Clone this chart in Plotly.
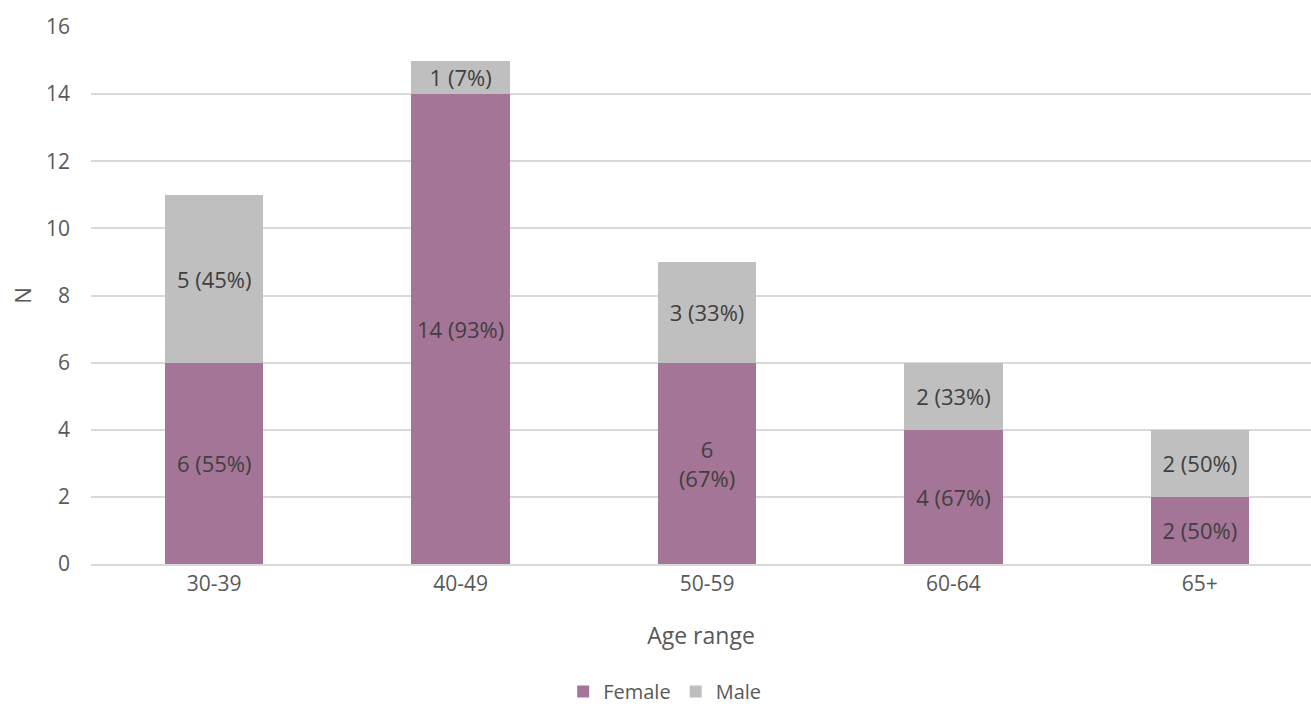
import plotly.graph_objects as go

categories = ["30-39", "40-49", "50-59", "60-64", "65+"]
female = [6, 14, 6, 4, 2]
male = [5, 1, 3, 2, 2]
female_labels = ["6 (55%)", "14 (93%)", "6<br>(67%)", "4 (67%)", "2 (50%)"]
male_labels = ["5 (45%)", "1 (7%)", "3 (33%)", "2 (33%)", "2 (50%)"]
y_ticks = [0, 2, 4, 6, 8, 10, 12, 14, 16]

FONT = "Open Sans"
TXT = "#595959"
LBL = "#404040"

fig = go.Figure()
fig.add_trace(go.Bar(
    x=categories, y=female, name="Female", marker_color="#A47596",
    text=female_labels, textposition="inside", insidetextanchor="middle",
    textfont=dict(family=FONT, size=22, color=LBL), width=0.4,
    marker_line_width=0, texttemplate="%{text}",
))
fig.add_trace(go.Bar(
    x=categories, y=male, name="Male", marker_color="#BFBFBF",
    text=male_labels, textposition="inside", insidetextanchor="middle",
    textfont=dict(family=FONT, size=22, color=LBL), width=0.4,
    marker_line_width=0, texttemplate="%{text}",
))

fig.update_layout(
    barmode="stack",
    width=1311, height=707,
    margin=dict(l=91, r=0, t=27, b=143),
    plot_bgcolor="white", paper_bgcolor="white",
    font=dict(family=FONT, size=20, color=TXT),
    uniformtext=dict(mode="show", minsize=22),
    legend=dict(orientation="h", xref="container", yref="container",
                x=0.507, xanchor="center", y=0.022, yanchor="middle",
                font=dict(size=20, color=TXT), itemwidth=30,
                traceorder="normal"),
    xaxis=dict(range=[-0.5, 4.451], showgrid=False, showline=True,
               linecolor="#D9D9D9", linewidth=2, ticks="",
               tickfont=dict(size=21, color=TXT),
               title=dict(text="Age range", font=dict(size=23, color=TXT), standoff=32)),
    yaxis=dict(range=[0, 16], tickvals=y_ticks, showgrid=True,
               gridcolor="#D9D9D9", gridwidth=2, zeroline=False, showline=False,
               tickfont=dict(size=21, color=TXT), ticklabelstandoff=20,
               title=dict(text="N", font=dict(size=22, color=TXT), standoff=8)),
)

fig.write_html("out.html")
